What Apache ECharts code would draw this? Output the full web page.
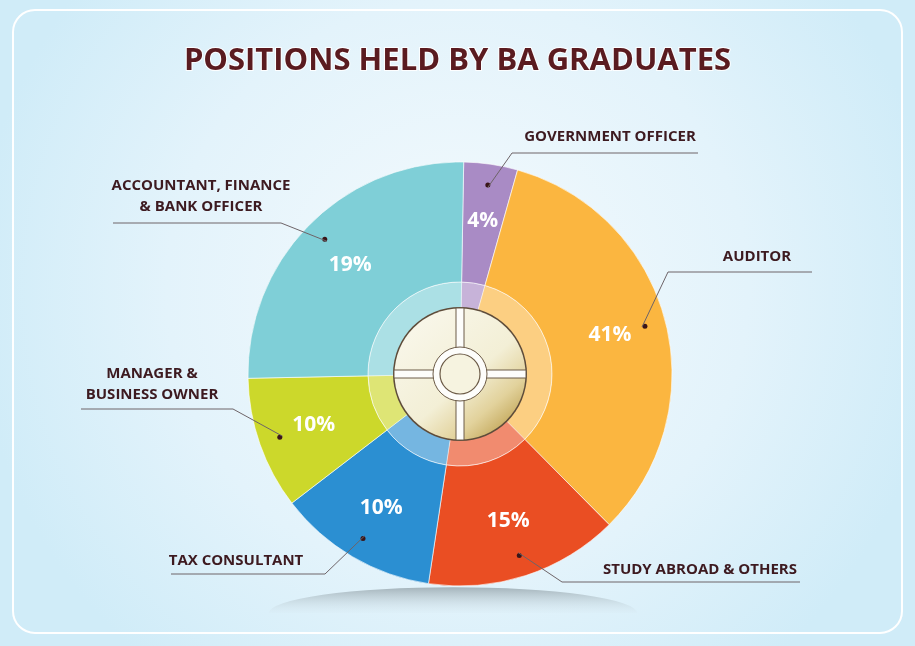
<!DOCTYPE html>
<html>
<head>
<meta charset="utf-8">
<script src="https://cdn.jsdelivr.net/npm/echarts@6/dist/echarts.min.js"></script>
<style>
html,body{margin:0;padding:0;width:915px;height:646px;overflow:hidden;}
#c{width:915px;height:646px;}
</style>
</head>
<body>
<div id="c"></div>
<script>
// ---- data ----
const titleText = 'POSITIONS HELD BY BA GRADUATES';
const categories = ['GOVERNMENT OFFICER', 'AUDITOR', 'STUDY ABROAD & OTHERS', 'TAX CONSULTANT', 'MANAGER &\nBUSINESS OWNER', 'ACCOUNTANT, FINANCE\n& BANK OFFICER'];
const percentLabels = [4, 41, 15, 10, 10, 19];          // printed percentages
const sliceShares = [4.1, 33.2, 14.8, 12.2, 10.1, 25.6]; // slice sizes as drawn in the picture
const colors = ['#a98bc5', '#fbb640', '#ea4e23', '#2b8fd2', '#ccd82b', '#7fcfd7'];

// ---- layout ----
const CX = 460, CY = 374, R = 212, DOT_R = 188, START = 89;
const nameLayout = [
  {tx: 610, ty: 137, elbow: [512, 153], endX: 698},
  {tx: 757, ty: 257, elbow: [668, 272], endX: 812},
  {tx: 700, ty: 570, elbow: [562, 582], endX: 800},
  {tx: 236, ty: 561, elbow: [325, 574], endX: 171},
  {tx: 152, ty: 384, elbow: [233, 409], endX: 81},
  {tx: 201, ty: 196, elbow: [281, 223], endX: 113}
];

const pieData = categories.map((n, i) => ({name: n, value: sliceShares[i], pct: percentLabels[i], itemStyle: {color: colors[i]}}));
const total = sliceShares.reduce((a, b) => a + b, 0);
function midAngle(i) {
  let acc = 0;
  for (let k = 0; k < i; k++) acc += sliceShares[k];
  acc += sliceShares[i] / 2;
  return (START - acc / total * 360) * Math.PI / 180;
}

const chart = echarts.init(document.getElementById('c'), null, {renderer: 'canvas'});
const common = {type: 'pie', center: [CX, CY], startAngle: START, clockwise: true, silent: true, animation: false,
  emphasis: {disabled: true}, avoidLabelOverlap: false};

chart.setOption({
  backgroundColor: {type: 'radial', x: 0.5, y: 0.45, r: 0.75,
    colorStops: [{offset: 0, color: '#f4fafd'}, {offset: 0.6, color: '#e3f3fb'}, {offset: 1, color: '#d0ecf8'}]},
  title: {
    text: titleText, left: 'center', top: 41,
    textStyle: {fontFamily: 'Open Sans', fontWeight: 'bold', fontSize: 31, color: '#5a1b20',
      textBorderColor: 'rgba(255,255,255,0.9)', textBorderWidth: 2}
  },
  graphic: [
    {type: 'rect', z: -1, shape: {x: 13, y: 10, width: 889, height: 623, r: 22},
      style: {fill: 'none', stroke: '#ffffff', lineWidth: 2}},
    {type: 'sector', z: -1, x: 453, y: 613, scaleY: 0.14,
      shape: {cx: 0, cy: 0, r: 184, r0: 0, startAngle: Math.PI, endAngle: Math.PI * 2},
      style: {fill: {type: 'linear', x: 0, y: 0, x2: 0, y2: 1, colorStops: [
        {offset: 0, color: 'rgba(160,175,182,0.95)'}, {offset: 1, color: 'rgba(215,232,240,0.2)'}]}}},
    // translucent inner ring
    {type: 'circle', z: 100, shape: {cx: CX, cy: CY, r: 92}, style: {fill: 'rgba(255,255,255,0.35)'}},
    // centre disc
    {type: 'circle', z: 101, shape: {cx: CX, cy: CY, r: 67}, style: {fill: '#5e4c3a'}},
    {type: 'circle', z: 102, shape: {cx: CX, cy: CY, r: 65.5}, style: {fill: {type: 'linear', global: true,
      x: CX - 40, y: CY - 50, x2: CX + 55, y2: CY + 60,
      colorStops: [{offset: 0, color: '#f8f6e8'}, {offset: 0.5, color: '#f3efd6'}, {offset: 0.75, color: '#e2d29c'}, {offset: 1, color: '#b99a45'}]}}},
    {type: 'rect', z: 103, shape: {x: CX - 4, y: CY - 66, width: 8, height: 132}, style: {fill: '#ffffff', stroke: '#6b5a46', lineWidth: 1}},
    {type: 'rect', z: 103, shape: {x: CX - 66, y: CY - 4, width: 132, height: 8}, style: {fill: '#ffffff', stroke: '#6b5a46', lineWidth: 1}},
    {type: 'rect', z: 104, shape: {x: CX - 3, y: CY - 65, width: 6, height: 130}, style: {fill: '#fdfdfb'}},
    {type: 'rect', z: 104, shape: {x: CX - 65, y: CY - 3, width: 130, height: 6}, style: {fill: '#fdfdfb'}},
    {type: 'circle', z: 105, shape: {cx: CX, cy: CY, r: 27}, style: {fill: '#fdfdfb', stroke: '#6b5a46', lineWidth: 1}},
    {type: 'circle', z: 106, shape: {cx: CX, cy: CY, r: 20}, style: {fill: '#f6f3e0', stroke: '#6b5a46', lineWidth: 1.2}}
  ],
  series: [
    Object.assign({}, common, {
      name: 'inner', radius: [0, 92], z: 2,
      label: {show: false}, labelLine: {show: false},
      itemStyle: {borderColor: 'rgba(255,255,255,0.5)', borderWidth: 0.8},
      data: pieData
    }),
    Object.assign({}, common, {
      name: 'main', radius: [92, R], z: 3,
      itemStyle: {borderColor: 'rgba(255,255,255,0.6)', borderWidth: 1},
      label: {show: true, position: 'inside', formatter: p => p.data.pct + '%',
        fontFamily: 'Open Sans', fontWeight: 'bold', fontSize: 21, color: '#ffffff'},
      labelLine: {show: false},
      data: pieData
    }),
    Object.assign({}, common, {
      name: 'dots', radius: [DOT_R - 24, DOT_R + 24], z: 4,
      itemStyle: {color: 'rgba(0,0,0,0)'},
      label: {show: true, position: 'inside', formatter: '{d|}',
        rich: {d: {width: 5, height: 5, borderRadius: 3, backgroundColor: '#3a1518'}}},
      labelLine: {show: false},
      data: pieData.map(d => ({name: d.name, value: d.value, itemStyle: {color: 'rgba(0,0,0,0)'}}))
    }),
    Object.assign({}, common, {
      name: 'names', radius: [0, R], z: 5,
      itemStyle: {color: 'rgba(0,0,0,0)'},
      label: {show: true, position: 'outside', formatter: '{b}',
        fontFamily: 'Open Sans', fontWeight: 'bold', fontSize: 15, lineHeight: 21, color: '#3d1a20', align: 'center'},
      labelLine: {show: true, length: 20, length2: 20, lineStyle: {color: '#6e6468', width: 1}},
      labelLayout: function (p) {
        const L = nameLayout[p.dataIndex];
        let start;
        const pts = p.labelLinePoints;
        if (pts && pts[0]) {
          const dx = pts[0][0] - CX, dy = pts[0][1] - CY;
          const k = DOT_R / Math.hypot(dx, dy);
          start = [CX + dx * k, CY + dy * k];
        } else {
          const a = midAngle(p.dataIndex);
          start = [CX + DOT_R * Math.cos(a), CY - DOT_R * Math.sin(a)];
        }
        return {x: L.tx, y: L.ty, align: 'center', verticalAlign: 'middle',
          labelLinePoints: [start, L.elbow, [L.endX, L.elbow[1]]]};
      },
      data: pieData.map(d => ({name: d.name, value: d.value, itemStyle: {color: 'rgba(0,0,0,0)'}}))
    })
  ]
});
</script>
</body>
</html>
